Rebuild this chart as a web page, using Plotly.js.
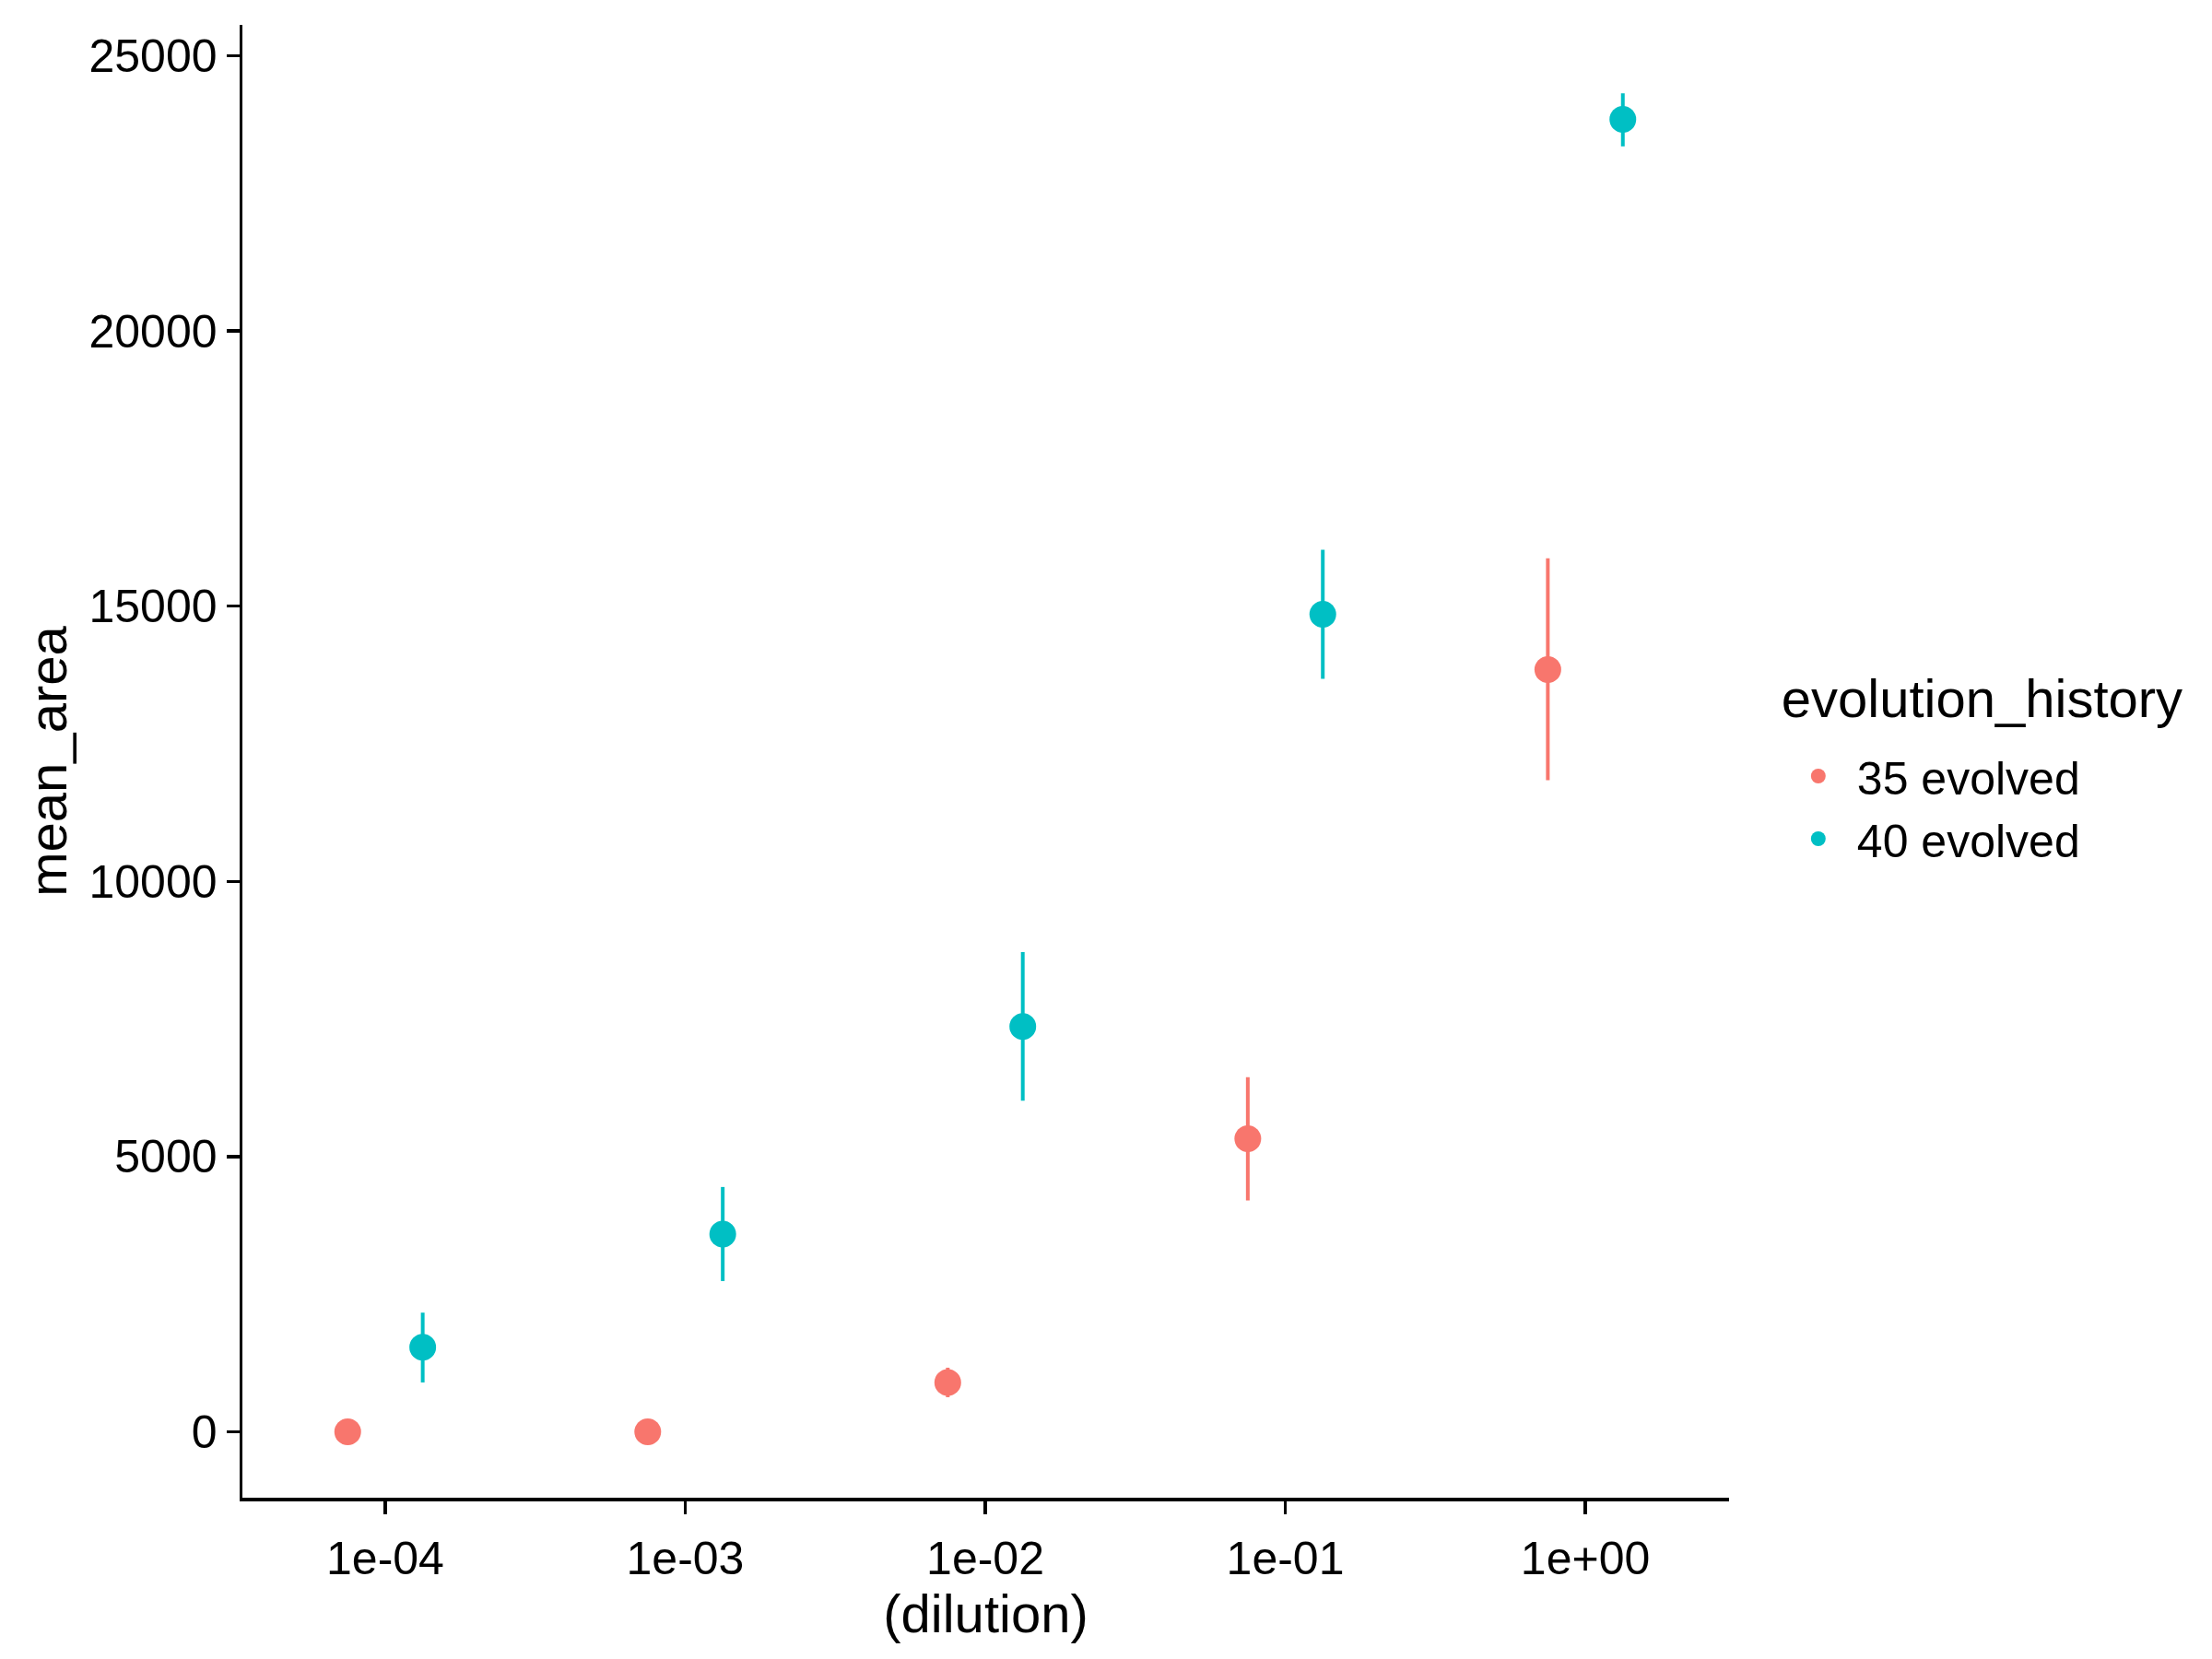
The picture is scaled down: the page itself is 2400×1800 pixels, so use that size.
<!DOCTYPE html>
<html>
<head>
<meta charset="utf-8">
<script src="https://cdn.plot.ly/plotly-3.0.1.min.js"></script>
<style>
  html, body { margin: 0; padding: 0; background: #ffffff; }
  #chart { width: 2400px; height: 1800px; }
</style>
</head>
<body>
<div id="chart"></div>
<script>
// ---- data ----
const dilution = [1e-4, 1e-3, 1e-2, 1e-1, 1];
const tickLabels = ["1e-04", "1e-03", "1e-02", "1e-01", "1e+00"];
const groups = ["35 evolved", "40 evolved"];

const mean35  = [0, 0, 898, 5325, 13850];
const upper35 = [0, 0, 1166, 6442, 15872];
const lower35 = [0, 0, 630, 4202, 11840];

const mean40  = [1539, 3594, 7363, 14855, 23844];
const upper40 = [2166, 4449, 8715, 16027, 24318];
const lower40 = [898, 2740, 6018, 13683, 23354];

const yTicks = [0, 5000, 10000, 15000, 20000, 25000];

// ---- styling ----
const colors = ["#F8766D", "#00BFC4"];
const dodge = [-0.125, 0.125]; // decades
const FONT = "Liberation Sans, Arial, Helvetica, sans-serif";

function makeTrace(means, up, lo, gi) {
  const f = Math.pow(10, dodge[gi]);
  return {
    type: "scatter",
    mode: "markers",
    name: groups[gi],
    legendgroup: "evo",
    legendgrouptitle: { text: "\u00a0", font: { size: 17, family: FONT } },
    x: dilution.map(d => d * f),
    y: means,
    error_y: {
      type: "data",
      symmetric: false,
      array: up.map((u, i) => u - means[i]),
      arrayminus: means.map((m, i) => m - lo[i]),
      color: colors[gi],
      thickness: 4,
      width: 0
    },
    marker: { color: colors[gi], size: 29, line: { width: 0 } },
    hoverinfo: "x+y+name"
  };
}

const data = [
  makeTrace(mean35, upper35, lower35, 0),
  makeTrace(mean40, upper40, lower40, 1)
];

const layout = {
  width: 2400,
  height: 1800,
  paper_bgcolor: "#ffffff",
  plot_bgcolor: "#ffffff",
  font: { family: FONT, size: 50, color: "#000000" },
  margin: { l: 263, r: 524, t: 27, b: 175, pad: 0 },
  showlegend: true,
  legend: {
    title: { text: "evolution_history", font: { size: 58, family: FONT } },
    font: { size: 50, family: FONT },
    x: 1.034, xanchor: "left",
    y: 0.50, yanchor: "middle",
    bgcolor: "rgba(0,0,0,0)",
    itemsizing: "trace",
    itemwidth: 74,
    tracegroupgap: 0
  },
  xaxis: {
    type: "log",
    range: [-4.476, 0.479],
    tickmode: "array",
    tickvals: dilution,
    ticktext: tickLabels,
    ticks: "outside",
    ticklen: 14,
    tickwidth: 3.5,
    tickcolor: "#000000",
    ticklabelstandoff: 5,
    showline: true,
    linewidth: 3.5,
    linecolor: "#000000",
    showgrid: false,
    zeroline: false,
    tickfont: { size: 50, family: FONT, color: "#000000" },
    title: { text: "(dilution)", font: { size: 58, family: FONT, color: "#000000" }, standoff: 0 },
    automargin: false
  },
  yaxis: {
    range: [-1196, 25561],
    tickmode: "array",
    tickvals: yTicks,
    ticktext: yTicks.map(String),
    ticks: "outside",
    ticklen: 14,
    tickwidth: 3.5,
    tickcolor: "#000000",
    showline: true,
    linewidth: 3.5,
    linecolor: "#000000",
    showgrid: false,
    zeroline: false,
    tickfont: { size: 50, family: FONT, color: "#000000" },
    title: { text: "mean_area", font: { size: 58, family: FONT, color: "#000000" }, standoff: 6 },
    automargin: false
  }
};

Plotly.newPlot("chart", data, layout, { displayModeBar: false, staticPlot: true });
</script>
</body>
</html>
